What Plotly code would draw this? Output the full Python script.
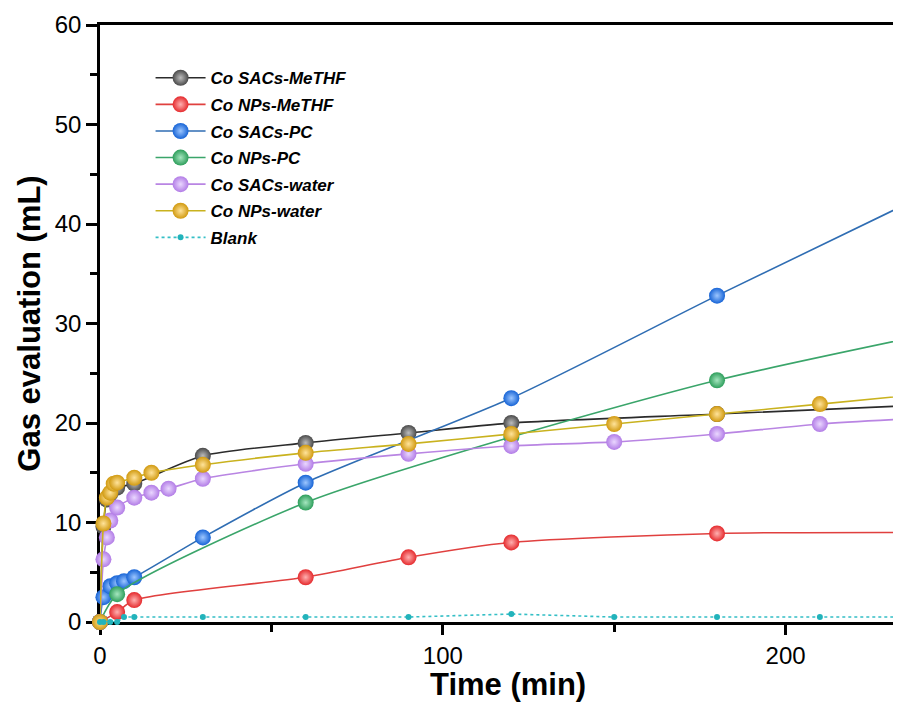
import plotly.graph_objects as go

# ---- data ----
t_sacs_methf = [0, 1, 2, 3, 5, 10, 30, 60, 90, 120, 180, 240]
y_sacs_methf = [0, 9.6, 12.3, 12.9, 13.5, 13.9, 16.7, 18.0, 19.0, 20.0, 20.9, 21.8]

t_nps_methf = [0, 5, 10, 60, 90, 120, 180, 240]
y_nps_methf = [0, 1.0, 2.2, 4.5, 6.5, 8.0, 8.9, 9.0]

t_sacs_pc = [0, 1, 3, 5, 7, 10, 30, 60, 120, 180, 240]
y_sacs_pc = [0, 2.5, 3.6, 3.9, 4.1, 4.5, 8.5, 14.0, 22.5, 32.8, 42.8]

t_nps_pc = [0, 5, 60, 120, 180, 240]
y_nps_pc = [0, 2.8, 12.0, 18.6, 24.3, 28.8]

t_sacs_water = [0, 1, 2, 3, 5, 10, 15, 20, 30, 60, 90, 120, 150, 180, 210, 240]
y_sacs_water = [0, 6.3, 8.5, 10.2, 11.5, 12.5, 13.0, 13.4, 14.4, 15.9, 16.9, 17.7, 18.1, 18.9, 19.9, 20.5]

t_nps_water = [0, 1, 2, 3, 4, 5, 10, 15, 30, 60, 90, 120, 150, 180, 210, 240]
y_nps_water = [0, 9.9, 12.5, 13.0, 13.9, 14.0, 14.5, 15.0, 15.8, 17.0, 17.9, 18.9, 19.9, 20.9, 21.9, 22.9]

t_blank = [0, 1, 3, 5, 7, 10, 30, 60, 90, 120, 150, 180, 210, 240]
y_blank = [0, 0, 0, 0, 0.5, 0.5, 0.5, 0.5, 0.5, 0.8, 0.5, 0.5, 0.5, 0.5]

series = [
    ("Co SACs-MeTHF", t_sacs_methf, y_sacs_methf, "#2b2b2b", "#4a4a4a", "#bdbdbd"),
    ("Co NPs-MeTHF", t_nps_methf, y_nps_methf, "#e0403f", "#e52a2d", "#ffb0b0"),
    ("Co SACs-PC", t_sacs_pc, y_sacs_pc, "#2f6db3", "#1764d6", "#9cc6ff"),
    ("Co NPs-PC", t_nps_pc, y_nps_pc, "#3aa56a", "#2e9e5b", "#a5e6bf"),
    ("Co SACs-water", t_sacs_water, y_sacs_water, "#b985e3", "#b27ce6", "#ead7ff"),
    ("Co NPs-water", t_nps_water, y_nps_water, "#c9b21e", "#d19a10", "#ffe39a"),
]

fig = go.Figure()
for i, (name, t, y, lc, mc, hc) in enumerate(series):
    fig.add_trace(go.Scatter(
        x=t, y=y, name=name, mode="lines+markers",
        line=dict(color=lc, width=1.6, shape="spline", smoothing=0.7),
        marker=dict(size=16, color=mc, line=dict(width=0),
                    gradient=dict(type="radial", color=hc)),
        cliponaxis=False, legendgroup=f"g{i}",
    ))

fig.add_trace(go.Scatter(
    x=t_blank, y=y_blank, name="Blank", mode="lines+markers",
    line=dict(color="#35bfc6", width=1.6, dash="dot"),
    marker=dict(size=6, color="#22b3bb"),
    cliponaxis=False, legendgroup="g6",
))

fig.update_layout(
    width=901, height=722,
    margin=dict(l=92, r=0, t=17, b=108, autoexpand=False),
    paper_bgcolor="white", plot_bgcolor="white",
    font=dict(family="Liberation Sans, Arial, sans-serif", color="black"),
    showlegend=True,
    legend=dict(
        x=0.0625, y=0.941, xanchor="left", yanchor="top",
        bgcolor="rgba(0,0,0,0)", borderwidth=0,
        font=dict(family="Liberation Sans, Arial, sans-serif", size=17,
                  color="black", weight="bold", style="italic"),
        itemwidth=50, tracegroupgap=1.5,
    ),
    annotations=[dict(
        text="<b>Time (min)</b>", xref="paper", yref="paper",
        x=0.504, y=-0.104, xanchor="center", yanchor="middle",
        showarrow=False, font=dict(size=31, color="black"),
    )],
)

fig.update_xaxes(
    range=[0, 236.0], showgrid=False, zeroline=False, automargin=False,
    showline=True, linecolor="black", linewidth=2.5, mirror=True,
    ticks="outside", ticklen=10, tickwidth=2.5, tickcolor="black",
    tickvals=[0, 100, 200], ticktext=["0", "100", "200"],
    minor=dict(tickvals=[50, 150], ticks="outside", ticklen=7, tickwidth=2.5, tickcolor="black"),
    tickfont=dict(size=24, color="black"),
    layer="below traces",
)
fig.update_yaxes(
    range=[0, 60], showgrid=False, zeroline=False, automargin=False,
    showline=True, linecolor="black", linewidth=2.5, mirror=False,
    ticks="outside", ticklen=11, tickwidth=2.5, tickcolor="black",
    tickvals=[0, 10, 20, 30, 40, 50, 60],
    minor=dict(tickvals=[5, 15, 25, 35, 45, 55], ticks="outside", ticklen=7, tickwidth=2.5, tickcolor="black"),
    tickfont=dict(size=24, color="black"),
    title=dict(text="<b>Gas evaluation (mL)</b>", font=dict(size=31, color="black"), standoff=5),
    layer="below traces",
)

fig.write_html("out.html", config={"responsive": False})
